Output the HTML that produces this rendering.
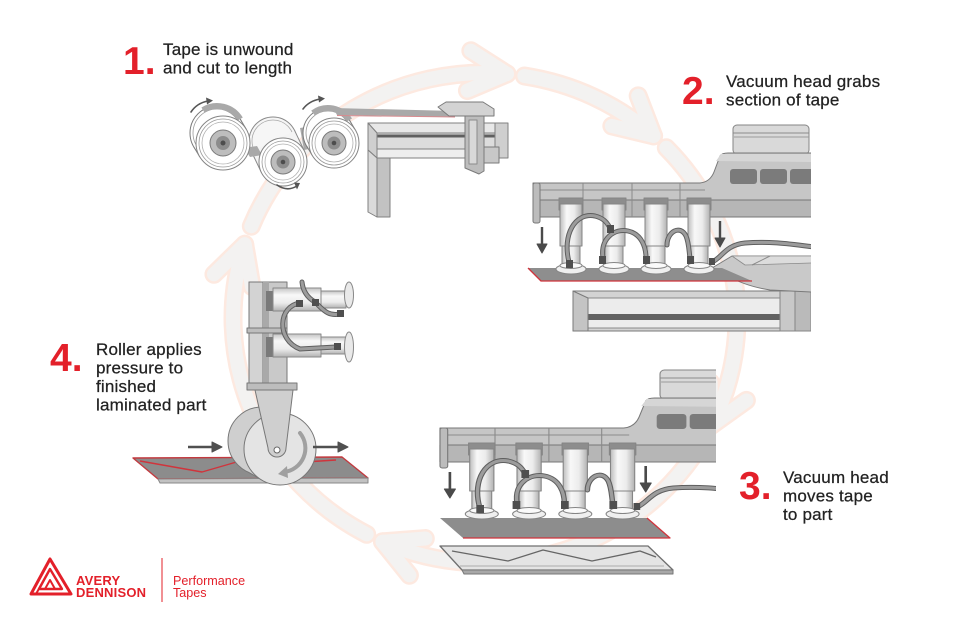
<!DOCTYPE html>
<html><head><meta charset="utf-8"><title>Tape lamination process</title>
<style>
html,body{margin:0;padding:0;background:#fff;width:960px;height:628px;overflow:hidden}
svg{display:block}
.t{font-family:"Liberation Sans",Arial,sans-serif;font-size:17px;fill:#222;letter-spacing:0.2px;stroke:#222;stroke-width:0.25px}
.n{font-family:"Liberation Sans",Arial,sans-serif;font-size:39px;font-weight:bold;fill:#e3202a}
.lg{font-family:"Liberation Sans",Arial,sans-serif;font-weight:bold;font-size:13px;fill:#e3202a;letter-spacing:0.2px}
.pt{font-family:"Liberation Sans",Arial,sans-serif;font-size:12.6px;fill:#e3202a}
</style></head><body>
<svg width="960" height="628" viewBox="0 0 960 628" xmlns="http://www.w3.org/2000/svg">
<defs>
 <linearGradient id="cyl" x1="0" x2="1" y1="0" y2="0">
  <stop offset="0" stop-color="#bdbdbd"/><stop offset="0.3" stop-color="#f8f8f8"/><stop offset="0.65" stop-color="#ececec"/><stop offset="1" stop-color="#b2b2b2"/>
 </linearGradient>
 <linearGradient id="cylh" x1="0" x2="0" y1="0" y2="1">
  <stop offset="0" stop-color="#c4c4c4"/><stop offset="0.3" stop-color="#f8f8f8"/><stop offset="0.65" stop-color="#ececec"/><stop offset="1" stop-color="#b2b2b2"/>
 </linearGradient>
 <clipPath id="c2"><rect x="0" y="0" width="811" height="628"/></clipPath>
 <clipPath id="c3"><rect x="0" y="0" width="716" height="628"/></clipPath>

 <g id="ring">
  <path d="M 251.3 226.2 A 252 245 0 0 1 507 73.9"/>
  <path d="M 524.4 76 A 252 245 0 0 1 653.6 135.9"/>
  <path d="M 666.3 147.8 A 252 245 0 0 1 711.5 425.4"/>
  <path d="M 703.2 440.5 A 252 245 0 0 1 382.5 541.8"/>
  <path d="M 366.7 534.3 A 252 245 0 0 1 244.7 244.3"/>
  <path d="M -38 -20 L 0 0 L -38 20" transform="translate(507,73.9) rotate(4.9)"/>
  <path d="M -38 -20 L 0 0 L -38 20" transform="translate(653.6,135.9) rotate(41.2)"/>
  <path d="M -38 -20 L 0 0 L -38 20" transform="translate(711.5,425.4) rotate(116.6)"/>
  <path d="M -38 -20 L 0 0 L -38 20" transform="translate(382.5,541.8) rotate(203.4)"/>
  <path d="M -38 -20 L 0 0 L -38 20" transform="translate(244.7,244.3) rotate(-72)"/>
 </g>

 <!-- vacuum head (machine 2 coordinates) -->
 <g id="head" stroke-linejoin="round">
  <rect x="733" y="125" width="76" height="29" rx="4" fill="#d9d9d9" stroke="#858585"/>
  <line x1="733" y1="133" x2="809" y2="133" stroke="#8a8a8a"/>
  <line x1="734" y1="137" x2="809" y2="137" stroke="#9a9a9a"/>
  <path d="M 533 183 L 700 183 Q 710 182 714 172 L 720 156 Q 722 153 728 153 L 812 153 L 812 217 L 533 217 Z" fill="#c6c6c6" stroke="#777"/>
  <polygon points="716,161 721,154 812,154 812,162" fill="#d6d6d6"/>
  <rect x="533" y="200" width="279" height="17" fill="#b6b6b6" stroke="#777"/>
  <line x1="533" y1="190" x2="705" y2="190" stroke="#8c8c8c"/>
  <rect x="533" y="183" width="7" height="40" rx="2" fill="#bcbcbc" stroke="#777"/>
  <line x1="583" y1="183" x2="583" y2="217" stroke="#8a8a8a"/>
  <line x1="632" y1="183" x2="632" y2="217" stroke="#8a8a8a"/>
  <line x1="680" y1="183" x2="680" y2="217" stroke="#8a8a8a"/>
  <rect x="730" y="169" width="27" height="15" rx="3" fill="#7b7b7b"/>
  <rect x="760" y="169" width="27" height="15" rx="3" fill="#7b7b7b"/>
  <rect x="790" y="169" width="27" height="15" rx="3" fill="#7b7b7b"/>
  <g stroke="#858585">
   <rect x="559" y="198" width="24" height="12" fill="#8d8d8d"/>
   <rect x="560" y="204" width="22" height="42" fill="url(#cyl)"/>
   <rect x="562" y="246" width="18" height="20" fill="url(#cyl)"/>
   <ellipse cx="571" cy="269" rx="15" ry="5" fill="#efefef"/>
   <ellipse cx="571" cy="265.5" rx="11" ry="3" fill="#fafafa"/>

   <rect x="602" y="198" width="24" height="12" fill="#8d8d8d"/>
   <rect x="603" y="204" width="22" height="42" fill="url(#cyl)"/>
   <rect x="605" y="246" width="18" height="20" fill="url(#cyl)"/>
   <ellipse cx="614" cy="269" rx="15" ry="5" fill="#efefef"/>
   <ellipse cx="614" cy="265.5" rx="11" ry="3" fill="#fafafa"/>

   <rect x="644" y="198" width="24" height="12" fill="#8d8d8d"/>
   <rect x="645" y="204" width="22" height="42" fill="url(#cyl)"/>
   <rect x="647" y="246" width="18" height="20" fill="url(#cyl)"/>
   <ellipse cx="656" cy="269" rx="15" ry="5" fill="#efefef"/>
   <ellipse cx="656" cy="265.5" rx="11" ry="3" fill="#fafafa"/>

   <rect x="687" y="198" width="24" height="12" fill="#8d8d8d"/>
   <rect x="688" y="204" width="22" height="42" fill="url(#cyl)"/>
   <rect x="690" y="246" width="18" height="20" fill="url(#cyl)"/>
   <ellipse cx="699" cy="269" rx="15" ry="5" fill="#efefef"/>
   <ellipse cx="699" cy="265.5" rx="11" ry="3" fill="#fafafa"/>
  </g>
  <g fill="none" stroke-linecap="round">
   <g stroke="#5f5f5f" stroke-width="5">
    <path d="M 569 262 C 562 235 575 212 595 216 C 603 218 607 222 610 228"/>
    <path d="M 603 258 C 600 238 615 228 628 231 C 642 234 646 248 646 258"/>
    <path d="M 667 245 C 667 232 680 224 686 236 C 689 243 689 252 690 258"/>
    <path d="M 712 262 C 722 258 725 245 745 243 C 770 241 790 244 814 247"/>
   </g>
   <g stroke="#9c9c9c" stroke-width="3">
    <path d="M 569 262 C 562 235 575 212 595 216 C 603 218 607 222 610 228"/>
    <path d="M 603 258 C 600 238 615 228 628 231 C 642 234 646 248 646 258"/>
    <path d="M 667 245 C 667 232 680 224 686 236 C 689 243 689 252 690 258"/>
    <path d="M 712 262 C 722 258 725 245 745 243 C 770 241 790 244 814 247"/>
   </g>
  </g>
  <g fill="#4f4f4f">
   <rect x="566" y="260" width="7" height="8"/>
   <rect x="607" y="225" width="7" height="8"/>
   <rect x="599" y="256" width="7" height="8"/>
   <rect x="643" y="256" width="7" height="8"/>
   <rect x="687" y="256" width="7" height="8"/>
   <rect x="709" y="258" width="6" height="7"/>
  </g>
  <g stroke="#4a4a4a" stroke-width="2.4" fill="#4a4a4a">
   <line x1="542" y1="227" x2="542" y2="246"/>
   <polygon points="537,244 547,244 542,253" stroke-width="1"/>
   <line x1="720" y1="221" x2="720" y2="240"/>
   <polygon points="715,238 725,238 720,247" stroke-width="1"/>
  </g>
 </g>
</defs>

<!-- background cycle ring -->
<g fill="none" stroke-linecap="round" stroke-linejoin="round">
 <use href="#ring" stroke="#fde9e0" stroke-width="19"/>
 <use href="#ring" stroke="#f3f2f1" stroke-width="14"/>
</g>

<!-- ============ MACHINE 1 ============ -->
<g stroke-linejoin="round">
 <!-- roll 2 back & side -->
 <circle cx="273" cy="141" r="24" fill="#f6f6f6" stroke="#8a8a8a"/>
 <circle cx="273" cy="141" r="21" fill="none" stroke="#a8a8a8" stroke-width="0.8"/>
 <polygon points="304.7,151.7 294.7,130.7 251.3,151.3 261.3,172.3" fill="#f4f4f4"/>
 <line x1="304.7" y1="151.7" x2="294.7" y2="130.7" stroke="#8a8a8a"/>
 <line x1="251.3" y1="151.3" x2="261.3" y2="172.3" stroke="#8a8a8a"/>
 <!-- tape between rolls -->
 <polygon points="244,148 257,146 262,155 250,157" fill="#a9a9a9"/>
 <polygon points="300,128 312,126 314,148 304,150" fill="#a9a9a9"/>
 <!-- roll 1 -->
 <circle cx="217" cy="133" r="27" fill="#fff" stroke="#7a7a7a"/>
 <circle cx="217" cy="133" r="24" fill="none" stroke="#9a9a9a" stroke-width="0.8"/>
 <polygon points="246.2,129.1 240.2,119.1 193.8,146.9 199.8,156.9" fill="#fff"/>
 <path d="M 240.2 119.1 A 27 27 0 0 0 203 110" fill="none" stroke="#a9a9a9" stroke-width="6"/>
 <line x1="246.2" y1="129.1" x2="240.2" y2="119.1" stroke="#7a7a7a"/>
 <line x1="193.8" y1="146.9" x2="199.8" y2="156.9" stroke="#7a7a7a"/>
 <circle cx="223" cy="143" r="27" fill="#fff" stroke="#858585"/>
 <circle cx="223" cy="143" r="24" fill="none" stroke="#9a9a9a" stroke-width="0.8"/>
 <circle cx="223" cy="143" r="21" fill="none" stroke="#b0b0b0" stroke-width="0.8"/>
 <circle cx="223" cy="143" r="13" fill="#bdbdbd" stroke="#7a7a7a"/>
 <circle cx="223" cy="143" r="7" fill="#8c8c8c"/>
 <circle cx="223" cy="143" r="2.5" fill="#4d4d4d"/>
 <!-- roll 3 -->
 <circle cx="328" cy="133" r="25" fill="#fff" stroke="#7a7a7a"/>
 <circle cx="328" cy="133" r="22" fill="none" stroke="#9a9a9a" stroke-width="0.8"/>
 <polygon points="355.4,130.1 349.4,120.1 306.6,145.9 312.6,155.9" fill="#fff"/>
 <path d="M 349.4 120.1 A 25 25 0 0 0 313 113" fill="none" stroke="#a9a9a9" stroke-width="6"/>
 <line x1="355.4" y1="130.1" x2="349.4" y2="120.1" stroke="#7a7a7a"/>
 <line x1="306.6" y1="145.9" x2="312.6" y2="155.9" stroke="#7a7a7a"/>
 <circle cx="334" cy="143" r="25" fill="#fff" stroke="#858585"/>
 <circle cx="334" cy="143" r="22" fill="none" stroke="#9a9a9a" stroke-width="0.8"/>
 <circle cx="334" cy="143" r="19" fill="none" stroke="#b0b0b0" stroke-width="0.8"/>
 <circle cx="334" cy="143" r="12" fill="#bdbdbd" stroke="#7a7a7a"/>
 <circle cx="334" cy="143" r="6.5" fill="#8c8c8c"/>
 <circle cx="334" cy="143" r="2.3" fill="#4d4d4d"/>
 <!-- roll 2 front -->
 <circle cx="283" cy="162" r="24" fill="#fff" stroke="#858585"/>
 <circle cx="283" cy="162" r="21" fill="none" stroke="#9a9a9a" stroke-width="0.8"/>
 <circle cx="283" cy="162" r="18" fill="none" stroke="#b0b0b0" stroke-width="0.8"/>
 <circle cx="283" cy="162" r="12" fill="#bdbdbd" stroke="#7a7a7a"/>
 <circle cx="283" cy="162" r="6.5" fill="#8c8c8c"/>
 <circle cx="283" cy="162" r="2.3" fill="#4d4d4d"/>
 <!-- rotation arrows -->
 <g fill="none" stroke="#555" stroke-width="1.6" stroke-linecap="round">
  <path d="M 191 112 Q 197 103 208 101"/>
  <path d="M 303 109 Q 309 101 320 99"/>
  <path d="M 277 185 Q 287 192 297 186"/>
 </g>
 <g fill="#555">
  <polygon points="206,97.5 213,100.5 207,104.5"/>
  <polygon points="318,95.5 325,98.5 319,102.5"/>
  <polygon points="294,182.5 300,183 297,189.5"/>
 </g>
 <!-- tape to cutter -->
 <polygon points="333,108 455,111 455,117 337,115" fill="#a9a9a9"/>
 <line x1="337" y1="115.5" x2="455" y2="117" stroke="#d88a8e" stroke-width="1"/>
 <!-- table -->
 <polygon points="368,123 506,123 506,133 377,133" fill="#e8e8e8" stroke="#808080"/>
 <rect x="377" y="133" width="129" height="16" fill="#dcdcdc" stroke="#808080"/>
 <rect x="377" y="134.5" width="129" height="3" fill="#5f5f5f"/>
 <rect x="377" y="149" width="129" height="9" fill="#eeeeee" stroke="#808080"/>
 <polygon points="368,123 377,133 377,158 368,150" fill="#cfcfcf" stroke="#808080"/>
 <polygon points="368,150 377,158 377,217 368,212" fill="#dadada" stroke="#808080"/>
 <rect x="377" y="158" width="13" height="59" fill="#c2c2c2" stroke="#808080"/>
 <rect x="495" y="123" width="13" height="35" fill="#cfcfcf" stroke="#808080"/>
 <!-- cutter -->
 <polygon points="438,107 446,102 483,102 494,109 494,116 449,116" fill="#d3d3d3" stroke="#7a7a7a"/>
 <polygon points="465,116 484,116 484,171 479,174 465,168" fill="#bdbdbd" stroke="#7a7a7a"/>
 <rect x="469" y="120" width="8" height="44" fill="#d8d8d8" stroke="#8a8a8a"/>
 <rect x="484" y="147" width="15" height="16" fill="#c8c8c8" stroke="#7a7a7a"/>
</g>

<!-- ============ MACHINE 2 ============ -->
<g clip-path="url(#c2)" stroke-linejoin="round">
 <rect x="573" y="291" width="240" height="40" fill="#d3d3d3" stroke="#7a7a7a"/>
 <rect x="588" y="298" width="192" height="30" fill="#ececec" stroke="#8a8a8a"/>
 <rect x="588" y="314" width="192" height="6" fill="#626262"/>
 <polygon points="573,291 588,298 588,331 573,331" fill="#c4c4c4" stroke="#7a7a7a"/>
 <rect x="780" y="291" width="15" height="40" fill="#c8c8c8" stroke="#858585"/>
 <rect x="795" y="291" width="16" height="40" fill="#bababa" stroke="#858585"/>
 <path d="M 712 268 L 732 256 L 812 256 L 812 292 L 770 290 Q 745 286 728 276 Z" fill="#c9c9c9" stroke="#7a7a7a"/>
 <polygon points="732,256 812,256 812,263 745,265" fill="#dcdcdc" stroke="#8a8a8a" stroke-width="0.8"/>
 <line x1="752" y1="265" x2="770" y2="256" stroke="#8a8a8a"/>
 <polygon points="528,268 722,268 752,281 541,281" fill="#8e8e8e"/>
 <polyline points="528,268 541,281 752,281" fill="none" stroke="#d0343c" stroke-width="1.3"/>
 <use href="#head"/>
</g>

<!-- ============ MACHINE 3 ============ -->
<g clip-path="url(#c3)" stroke-linejoin="round">
 <polygon points="440,546 648,546 673,570 462,570" fill="#e4e4e4" stroke="#6f6f6f" stroke-width="1.3"/>
 <polygon points="462,570 673,570 673,574 464,574" fill="#a8a8a8" stroke="#777"/>
 <polyline points="452,551 508,561 543,550 592,561 640,551 656,557" fill="none" stroke="#666" stroke-width="1.3"/>
 <line x1="460" y1="566" x2="664" y2="566" stroke="#999" stroke-width="0.8"/>
 <polygon points="440,518 647,518 670,538 463,538" fill="#8d8d8d"/>
 <polyline points="647,518 670,538 463,538" fill="none" stroke="#d0343c" stroke-width="1.3"/>
 <use href="#head" transform="translate(440,428) scale(1.1,1) translate(-533,-183)"/>
</g>

<!-- ============ MACHINE 4 ============ -->
<g stroke-linejoin="round">
 <polygon points="133,458 342,457 368,478 158,479" fill="#8c8c8c" stroke="#c23a3f" stroke-width="1.4"/>
 <polygon points="158,479 368,478 368,483 160,483" fill="#c2c2c2" stroke="#888"/>
 <polyline points="140,461 202,472 240,461 262,463" fill="none" stroke="#d0343c" stroke-width="1.4"/>
 <polyline points="305,462 336,460" fill="none" stroke="#d0343c" stroke-width="1.4"/>
 <rect x="249" y="282" width="38" height="102" fill="#c9c9c9" stroke="#777"/>
 <rect x="249" y="282" width="14" height="102" fill="#d3d3d3" stroke="#777"/>
 <rect x="263" y="282" width="6" height="102" fill="#a9a9a9"/>
 <rect x="247" y="328" width="40" height="5" fill="#bdbdbd" stroke="#777"/>
 <rect x="266" y="291" width="9" height="20" fill="#7a7a7a"/>
 <rect x="266" y="337" width="9" height="20" fill="#7a7a7a"/>
 <rect x="273" y="288" width="48" height="23" fill="url(#cylh)" stroke="#888"/>
 <rect x="321" y="291" width="25" height="17" fill="url(#cylh)" stroke="#888"/>
 <ellipse cx="349" cy="295" rx="4.5" ry="13" fill="#e9e9e9" stroke="#888"/>
 <rect x="273" y="334" width="48" height="23" fill="url(#cylh)" stroke="#888"/>
 <rect x="321" y="337" width="25" height="17" fill="url(#cylh)" stroke="#888"/>
 <ellipse cx="349" cy="347" rx="4.5" ry="15" fill="#e9e9e9" stroke="#888"/>
 <g fill="none" stroke-linecap="round">
  <g stroke="#5f5f5f" stroke-width="5">
   <path d="M 302 282 C 303 292 308 298 315 302"/>
   <path d="M 300 303 C 278 306 276 340 300 349 L 336 347"/>
   <path d="M 318 305 C 325 312 330 316 340 314"/>
  </g>
  <g stroke="#9c9c9c" stroke-width="3">
   <path d="M 302 282 C 303 292 308 298 315 302"/>
   <path d="M 300 303 C 278 306 276 340 300 349 L 336 347"/>
   <path d="M 318 305 C 325 312 330 316 340 314"/>
  </g>
 </g>
 <g fill="#4f4f4f">
  <rect x="312" y="299" width="7" height="7"/>
  <rect x="296" y="300" width="7" height="7"/>
  <rect x="337" y="310" width="7" height="7"/>
  <rect x="334" y="343" width="7" height="7"/>
 </g>
 <rect x="247" y="383" width="50" height="7" fill="#bdbdbd" stroke="#777"/>
 <!-- wheels -->
 <circle cx="262" cy="441" r="34" fill="#cfcfcf" stroke="#777"/>
 <polygon points="248.2,472.1 265.4,481.9 294.6,416.1 275.8,409.9" fill="#cfcfcf"/>
 <line x1="248.2" y1="472.1" x2="265.4" y2="481.9" stroke="#777"/>
 <line x1="275.8" y1="409.9" x2="294.6" y2="416.1" stroke="#777"/>
 <circle cx="280" cy="449" r="36" fill="#e4e4e4" stroke="#777"/>
 <path d="M 300 433 A 24 24 0 0 1 284 472" fill="none" stroke="#a0a0a0" stroke-width="4" stroke-linecap="round"/>
 <polygon points="287,466 278,474 288,478" fill="#a0a0a0"/>
 <path d="M 255 390 L 293 390 L 286 448 A 9 9 0 0 1 268 448 Z" fill="#cfcfcf" stroke="#777"/>
 <circle cx="277" cy="450" r="3" fill="#fff" stroke="#666"/>
 <g stroke="#505050" stroke-width="2.6" fill="#505050">
  <line x1="188" y1="447" x2="214" y2="447"/>
  <polygon points="212,442 222,447 212,452" stroke-width="1"/>
  <line x1="313" y1="447" x2="340" y2="447"/>
  <polygon points="338,442 348,447 338,452" stroke-width="1"/>
 </g>
</g>

<!-- ============ LABELS ============ -->
<text class="n" x="123" y="74">1.</text>
<text class="t" x="163" y="55">Tape is unwound</text>
<text class="t" x="163" y="73.5">and cut to length</text>

<text class="n" x="682" y="104">2.</text>
<text class="t" x="726" y="87">Vacuum head grabs</text>
<text class="t" x="726" y="105.5">section of tape</text>

<text class="n" x="739" y="499">3.</text>
<text class="t" x="783" y="483">Vacuum head</text>
<text class="t" x="783" y="501.5">moves tape</text>
<text class="t" x="783" y="520">to part</text>

<text class="n" x="50" y="371">4.</text>
<text class="t" x="96" y="355">Roller applies</text>
<text class="t" x="96" y="373.5">pressure to</text>
<text class="t" x="96" y="392">finished</text>
<text class="t" x="96" y="410.5">laminated part</text>

<!-- ============ LOGO ============ -->
<g fill="none" stroke="#e3202a" stroke-linejoin="round" stroke-linecap="round">
 <path d="M 31 594 L 50 559 L 71 594 Z" stroke-width="3"/>
 <path d="M 39 589 L 50 569 L 62 589 Z" stroke-width="2.4"/>
 <path d="M 45 589 L 55 589 L 50 580 Z" stroke-width="2"/>
 <path d="M 36 594 L 50 569" stroke-width="2"/>
</g>
<text class="lg" x="76" y="585">AVERY</text>
<text class="lg" x="76" y="597">DENNISON</text>
<line x1="162" y1="558" x2="162" y2="602" stroke="#e3202a" stroke-width="1"/>
<text class="pt" x="173" y="585">Performance</text>
<text class="pt" x="173" y="597">Tapes</text>
</svg>
</body></html>
